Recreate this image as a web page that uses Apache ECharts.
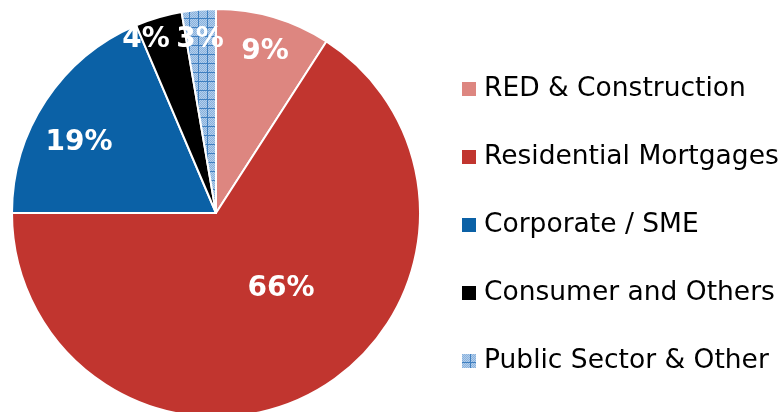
<!DOCTYPE html>
<html>
<head>
<meta charset="utf-8">
<title>Loan book</title>
<script src="https://cdn.jsdelivr.net/npm/echarts@6/dist/echarts.min.js"></script>
<style>
  html, body { margin: 0; padding: 0; background: #fff; }
  #main { width: 780px; height: 412px; }
</style>
</head>
<body>
<div id="main"></div>
<script>
  var categories = ['RED & Construction', 'Residential Mortgages', 'Corporate / SME', 'Consumer and Others', 'Public Sector & Other'];
  var shares = [9.1, 65.9, 18.6, 3.7, 2.7];

  // label positions, as Excel placed them
  var labelPos = [[265, 52], [281, 289], [79, 143], [146, 40], [200, 40]];

  // hatched fill for the public sector slice
  function hatch() {
    var c = document.createElement('canvas');
    c.width = 9; c.height = 9;
    var g = c.getContext('2d');
    g.fillStyle = '#b3cfec';
    g.fillRect(0, 0, 9, 9);
    g.fillStyle = '#88b0dc';
    for (var i = 0; i < 9; i++) {
      for (var j = 0; j < 9; j++) {
        if ((i + j) % 2 == 0) g.fillRect(i, j, 1, 1);
      }
    }
    g.fillStyle = '#3f7fc0';
    g.fillRect(0, 0, 9, 1);
    g.fillRect(0, 0, 1, 9);
    return c;
  }

  var colors = ['#dd8680', '#c1352f', '#0b61a6', '#000000', { image: hatch(), repeat: 'repeat' }];

  var chart = echarts.init(document.getElementById('main'));
  chart.setOption({
    animation: false,
    legend: {
      orient: 'vertical',
      left: 460,
      top: 75,
      padding: 0,
      itemWidth: 16,
      itemHeight: 16,
      itemGap: 40,
      icon: 'rect',
      textStyle: { fontFamily: 'DejaVu Sans', fontSize: 26.5, color: '#000', lineHeight: 28, padding: [0, 0, 0, 2] },
      data: categories
    },
    series: [{
      type: 'pie',
      center: [216, 213],
      radius: 204,
      startAngle: 90,
      clockwise: true,
      itemStyle: { borderColor: '#fff', borderWidth: 2 },
      label: {
        position: 'inside',
        color: '#fff',
        fontFamily: 'DejaVu Sans',
        fontWeight: 'bold',
        fontSize: 28,
        formatter: function (p) { return Math.round(p.percent) + '%'; }
      },
      labelLayout: function (p) {
        var pos = labelPos[p.dataIndex];
        return { x: pos[0], y: pos[1], align: 'center', verticalAlign: 'middle' };
      },
      data: categories.map(function (name, i) {
        return { name: name, value: shares[i], itemStyle: { color: colors[i] } };
      })
    }]
  });
</script>
</body>
</html>
